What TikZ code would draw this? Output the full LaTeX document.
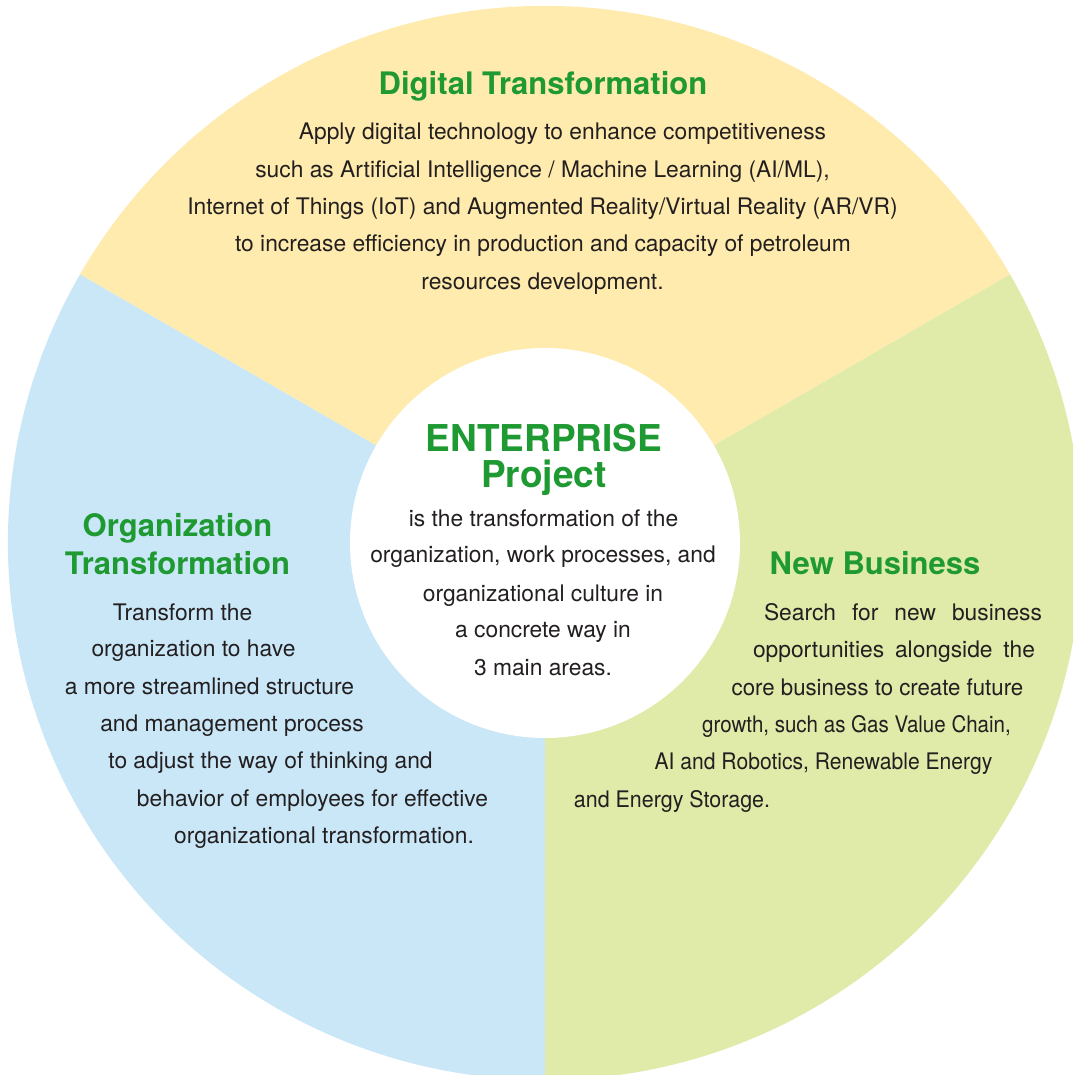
\documentclass[tikz,border=0pt]{standalone}
\usepackage{graphicx}
\usepackage{fontspec}
\setmainfont{TeX Gyre Heros}

\definecolor{secyellow}{HTML}{FEEBAD}
\definecolor{secblue}{HTML}{CAE7F8}
\definecolor{secgreen}{HTML}{E0EAA9}
\definecolor{titlegreen}{HTML}{1F9A33}
\definecolor{textgray}{HTML}{231F20}

\tikzset{
  areatitle/.style={text=titlegreen, anchor=base, inner sep=0pt, font=\fontsize{31}{31}\selectfont\bfseries},
  coretitle/.style={text=titlegreen, anchor=base, inner sep=0pt, font=\fontsize{37}{37}\selectfont\bfseries},
  bodyline/.style={text=textgray, anchor=base, inner sep=0pt, font=\fontsize{22.8}{23}\selectfont}
}

\begin{document}
\begin{tikzpicture}[x=1pt,y=1pt]

	%Background
	\useasboundingbox (0,0) rectangle (1073,1075);
	\clip (0,0) rectangle (1073,1075);
	\fill[white] (0,0) rectangle (1073,1075);

	%Sectors
	\coordinate (mid) at (545,532);
	\fill[secyellow] (mid) -- ++(30:537pt) arc[start angle=30, end angle=150, radius=537pt] -- cycle;
	\fill[secblue] (mid) -- ++(150:537pt) arc[start angle=150, end angle=270, radius=537pt] -- cycle;
	\fill[secgreen] (mid) -- ++(270:537pt) arc[start angle=270, end angle=390, radius=537pt] -- cycle;

	%Core
	\node[circle, fill=white, inner sep=0pt, minimum size=390pt] (core) at (mid) {};
	\node[coretitle] (enterprise) at (544,623) {ENTERPRISE};
	\node[coretitle] (project) at (544,587) {Project};
	\node[bodyline] (core1) at (543.5,548) {is the transformation of the};
	\node[bodyline] (core2) at (543,512) {organization, work processes, and};
	\node[bodyline] (core3) at (543,473) {organizational culture in};
	\node[bodyline] (core4) at (543,437) {a concrete way in};
	\node[bodyline] (core5) at (543,399) {3 main areas.};

	%Digital Transformation
	\node[areatitle] (digital) at (543,980) {Digital Transformation};
	\node[bodyline] (digital1) at (562.5,935) {Apply digital technology to enhance competitiveness};
	\node[bodyline] (digital2) at (542.5,897) {such as Artificial Intelligence / Machine Learning (AI/ML),};
	\node[bodyline] (digital3) at (542.5,860) {Internet of Things (IoT) and Augmented Reality/Virtual Reality (AR/VR)};
	\node[bodyline] (digital4) at (543,823) {to increase efficiency in production and capacity of petroleum};
	\node[bodyline] (digital5) at (542.5,785) {resources development.};

	%Organization Transformation
	\node[areatitle] (orga) at (177.5,538) {Organization};
	\node[areatitle] (orgb) at (177.5,500) {Transformation};
	\node[bodyline] (org1) at (182.5,454) {Transform the};
	\node[bodyline] (org2) at (193.5,418) {organization to have};
	\node[bodyline] (org3) at (209.5,380) {a more streamlined structure};
	\node[bodyline] (org4) at (232,343) {and management process};
	\node[bodyline] (org5) at (270.5,306) {to adjust the way of thinking and};
	\node[bodyline] (org6) at (312.5,268) {behavior of employees for effective};
	\node[bodyline] (org7) at (324,231) {organizational transformation.};

	%New Business
	\node[areatitle] (newbiz) at (875,500) {New Business};
	\node[bodyline] (biz1) at (903,454) {\makebox[278pt][s]{Search for new business}};
	\node[bodyline] (biz2) at (894,417) {\makebox[282pt][s]{opportunities alongside the}};
	\node[bodyline] (biz3) at (877.5,379) {\scalebox{0.975}[1]{core business to create future}};
	\node[bodyline] (biz4) at (856.5,342) {\scalebox{0.9}[1]{growth, such as Gas Value Chain,}};
	\node[bodyline] (biz5) at (823.5,305) {\scalebox{0.926}[1]{AI and Robotics, Renewable Energy}};
	\node[bodyline] (biz6) at (672,267) {\scalebox{0.94}[1]{and Energy Storage.}};

\end{tikzpicture}
\end{document}
